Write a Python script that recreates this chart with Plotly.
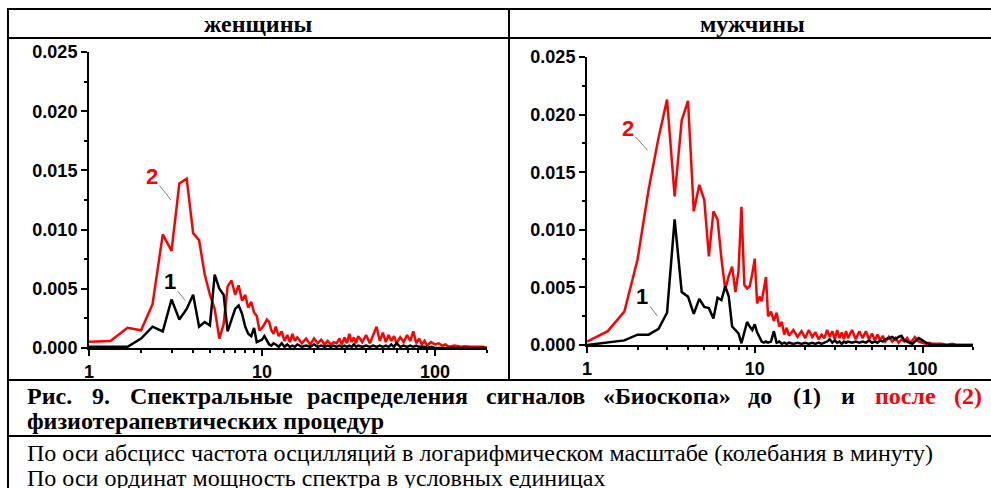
import math
import plotly.graph_objects as go

# частоты, колебания в минуту (шаг 1/3 до 12, дальше реже)
freq_low = [1.0, 1.33, 1.67, 2.0, 2.33, 2.67, 3.0, 3.33, 3.67, 4.0, 4.33,
            4.67, 5.0, 5.33, 5.67, 6.0, 6.33, 6.67, 7.0, 7.33, 7.67, 8.0,
            8.33, 8.67, 9.0, 9.33, 9.67, 10.0, 10.33, 10.67, 11.0, 11.33, 11.67]
freq_tail = [12.0, 12.5, 13.0, 13.5, 14.0, 14.5, 15.0, 15.5, 16.0,
             17, 18, 19, 20, 21, 22, 23, 24, 25, 26,
             27, 28, 29, 30, 31, 32, 33, 34, 35, 36,
             38, 40, 42, 44, 46, 48, 50, 52, 54, 56,
             58, 60, 63, 66, 69, 72, 75, 78, 81, 84,
             87, 90, 95, 100, 105, 110, 115, 120, 130, 140,
             150, 160, 170, 180, 190, 200]

# женщины, до (1)
women_before = [0.0001, 0.0001, 0.0001, 0.0008, 0.0018, 0.0014, 0.0041, 0.0024, 0.0033,
                0.0045, 0.0018, 0.0022, 0.0019, 0.0062, 0.0050, 0.0045, 0.0014, 0.0024,
                0.0033, 0.0036, 0.0029, 0.0018, 0.0012, 0.0010, 0.0017, 0.0005, 0.0006,
                0.0007, 0.0010, 0.0006, 0.0003, 0.0002, 0.0004,
                0.0003, 0.0001, 0.0004, 0.0001, 0.0003, 0.0001, 0.0002, 0.0001, 0.0003,
                0.0001, 0.0002, 0.0001, 0.0003, 0.0001, 0.0002, 0.0001, 0.0002, 0.0001, 0.0002,
                0.0001, 0.0002, 0.0001, 0.0002, 0.0001, 0.0002, 0.0001, 0.0003, 0.0001, 0.0002,
                0.0001, 0.0002, 0.0001, 0.0002, 0.0001, 0.0002, 0.0001, 0.0002, 0.0001, 0.0003,
                0.0001, 0.0004, 0.0001, 0.0002, 0.0001, 0.0002, 0.0001, 0.0002, 0.0001, 0.0001,
                0.0001, 0.0, 0.0001, 0.0, 0.0, 0.0, 0.0, 0.0, 0.0, 0.0,
                0.0, 0.0, 0.0, 0.0, 0.0, 0.0]
# женщины, после (2)
women_after = [0.00053, 0.0006, 0.0017, 0.0015, 0.0037, 0.0096, 0.0082, 0.0139, 0.0143,
               0.0097, 0.0091, 0.0062, 0.0045, 0.0033, 0.0008, 0.0020, 0.0052, 0.0057,
               0.0045, 0.0053, 0.0040, 0.0045, 0.0034, 0.0039, 0.0030, 0.0027, 0.0015,
               0.0017, 0.0020, 0.0024, 0.0022, 0.0015, 0.0012,
               0.0018, 0.0010, 0.0014, 0.0006, 0.0011, 0.0005, 0.0012, 0.0006, 0.0009,
               0.0004, 0.0008, 0.0003, 0.0008, 0.0004, 0.0007, 0.0003, 0.0006, 0.0003, 0.0005,
               0.0004, 0.0008, 0.0003, 0.0009, 0.0004, 0.0012, 0.0005, 0.0009, 0.0004, 0.0010,
               0.0005, 0.0011, 0.0004, 0.0012, 0.0018, 0.0006, 0.0013, 0.0005, 0.0011, 0.0006,
               0.0010, 0.0004, 0.0009, 0.0005, 0.0011, 0.0006, 0.0014, 0.0004, 0.0008, 0.0003,
               0.0006, 0.0002, 0.0005, 0.0003, 0.0004, 0.0002, 0.0003, 0.0001, 0.0002, 0.0001,
               0.00015, 0.0001, 0.0001, 0.00005, 0.0001, 0.0]

# мужчины, до (1)
men_before = [0.0, 0.0002, 0.0004, 0.0009, 0.0009, 0.0014, 0.0028, 0.0109, 0.0046,
              0.0042, 0.0027, 0.0040, 0.0033, 0.0032, 0.0023, 0.0041, 0.0039, 0.0051,
              0.0042, 0.0016, 0.0013, 0.0010, 0.00015, 0.0011, 0.0020, 0.0016, 0.0013,
              0.0018, 0.0011, 0.0007, 0.0003, 0.0002, 0.0003,
              0.0002, 0.0003, 0.0012, 0.0002, 0.0003, 0.0001, 0.0002, 0.0001, 0.0002,
              0.0001, 0.0002, 0.0001, 0.0002, 0.0001, 0.0002, 0.0001, 0.0002, 0.0001, 0.0002,
              0.0003, 0.0005, 0.0002, 0.0004, 0.0002, 0.0003, 0.0001, 0.0003, 0.0002, 0.0003,
              0.0002, 0.0003, 0.0002, 0.0003, 0.0002, 0.0004, 0.0002, 0.0003, 0.0002, 0.0004,
              0.0003, 0.0005, 0.0006, 0.0007, 0.0005, 0.0007, 0.0008, 0.0004, 0.0003, 0.0002,
              0.0001, 0.0003, 0.0006, 0.0004, 0.0002, 0.0001, 0.0, 0.0, 0.0, 0.0,
              0.0, 0.0, 0.0, 0.0, 0.0, 0.0]
# мужчины, после (2)
men_after = [0.0003, 0.0012, 0.0029, 0.0074, 0.0135, 0.0180, 0.0213, 0.0129, 0.0195,
             0.0212, 0.0116, 0.0139, 0.0126, 0.0077, 0.0116, 0.0109, 0.0075, 0.0048,
             0.0060, 0.0068, 0.0046, 0.0064, 0.0120, 0.0052, 0.0049, 0.0051, 0.0062,
             0.0075, 0.0036, 0.0042, 0.0038, 0.0048, 0.0059,
             0.0025, 0.0029, 0.0021, 0.0028, 0.0016, 0.0020, 0.0009, 0.0015, 0.0008,
             0.0013, 0.0007, 0.0012, 0.0006, 0.0013, 0.0007, 0.0011, 0.0005, 0.0009, 0.0006,
             0.0013, 0.0007, 0.0012, 0.0005, 0.0013, 0.0006, 0.0011, 0.0005, 0.0012, 0.0006,
             0.0013, 0.0005, 0.0012, 0.0006, 0.0012, 0.0005, 0.0010, 0.0004, 0.0009, 0.0004,
             0.0008, 0.0003, 0.0007, 0.0003, 0.0006, 0.0002, 0.0005, 0.0003, 0.0006, 0.0002,
             0.0004, 0.0007, 0.0003, 0.0002, 0.0001, 0.0002, 0.0001, 0.0001, 0.0001, 0.0,
             0.0001, 0.0, 0.0, 0.0, 0.0, 0.0]

y_ticks = [0.0, 0.005, 0.010, 0.015, 0.020, 0.025]
x_ticks = [1, 10, 100]
x_ticktext = ["1", "10", "100"]

panel_titles = ["женщины", "мужчины"]
caption_words = ["Рис.", "9.", "Спектральные", "распределения", "сигналов", "«Биоскопа»",
                 "до", "(1)", "и", "после", "(2)"]
caption_line2 = "физиотерапевтических процедур"
note_lines = ["По оси абсцисс частота осцилляций в логарифмическом масштабе (колебания в минуту)",
              "По оси ординат мощность спектра в условных единицах"]

W, H = 991, 488
RED = "#ff0000"
freq = freq_low + freq_tail


def px(x):
    return x / W


def py(y):
    return 1 - y / H


fig = go.Figure()

for xa, ya, before, after in [("x", "y", women_before, women_after),
                              ("x2", "y2", men_before, men_after)]:
    fig.add_trace(go.Scatter(x=freq, y=after, mode="lines", line=dict(color=RED, width=2.5),
                             xaxis=xa, yaxis=ya, showlegend=False, hoverinfo="skip"))
    fig.add_trace(go.Scatter(x=freq, y=before, mode="lines", line=dict(color="black", width=2.5),
                             xaxis=xa, yaxis=ya, showlegend=False, hoverinfo="skip"))

tickfont = dict(family="Liberation Sans", size=18, color="black", weight="bold")


def xaxis_cfg(x0, x1, anchor):
    return dict(type="log", range=[0, 2.301], domain=[px(x0), px(x1)], anchor=anchor,
                showline=True, linecolor="black", linewidth=2, mirror=False,
                ticks="outside", ticklen=6, tickwidth=2, tickcolor="black",
                tickvals=x_ticks, ticktext=x_ticktext, tickfont=tickfont,
                showgrid=False, zeroline=False, automargin=False,
                minor=dict(ticks="outside", ticklen=3, tickwidth=1.5, tickcolor="black",
                           dtick="D1", showgrid=False))


def yaxis_cfg(y0, y1, anchor):
    return dict(range=[0, 0.025], domain=[py(y0), py(y1)], anchor=anchor,
                showline=True, linecolor="black", linewidth=2,
                ticks="outside", ticklen=6, tickwidth=2, tickcolor="black",
                tickvals=y_ticks, tickformat=".3f", tickfont=tickfont,
                showgrid=False, zeroline=False, automargin=False,
                minor=dict(ticks="outside", ticklen=3, tickwidth=1.5, tickcolor="black",
                           dtick=0.0025, showgrid=False))


# рамка таблицы
shapes = []
for y in [9, 38, 380, 436]:
    shapes.append(dict(type="line", xref="paper", yref="paper", x0=px(7), x1=1.0,
                       y0=py(y), y1=py(y), line=dict(color="black", width=2)))
shapes.append(dict(type="line", xref="paper", yref="paper", x0=px(8), x1=px(8),
                   y0=py(8), y1=0, line=dict(color="black", width=2)))
shapes.append(dict(type="line", xref="paper", yref="paper", x0=px(509), x1=px(509),
                   y0=py(9), y1=py(380), line=dict(color="black", width=2)))

annotations = []
serif = "Liberation Serif"
for title, cx in zip(panel_titles, [258, 752]):
    annotations.append(dict(text="<b>%s</b>" % title, xref="paper", yref="paper",
                            x=px(cx), y=py(24), xanchor="center", yanchor="middle",
                            showarrow=False, font=dict(family=serif, size=24, color="black")))

# первая строка подписи выровнена по ширине
word_left = [25, 90, 128, 305, 484, 601, 746, 791, 839, 873, 952]
for word, xl in zip(caption_words, word_left):
    color = RED if word in ("после", "(2)") else "black"
    annotations.append(dict(text="<b>%s</b>" % word, xref="paper", yref="paper",
                            x=px(xl), y=py(396), xanchor="left", yanchor="middle",
                            showarrow=False, font=dict(family=serif, size=24, color=color)))
annotations.append(dict(text="<b>%s</b>" % caption_line2, xref="paper", yref="paper",
                        x=px(25), y=py(421), xanchor="left", yanchor="middle",
                        showarrow=False, font=dict(family=serif, size=24, color="black")))
for line, yy in zip(note_lines, [453, 478]):
    annotations.append(dict(text=line, xref="paper", yref="paper",
                            x=px(25), y=py(yy), xanchor="left", yanchor="middle",
                            showarrow=False, font=dict(family=serif, size=24, color="black")))

# номера кривых с выносками
labels = [("2", RED, "x", "y", 2.98, 0.0125, -19, -24),
          ("1", "black", "x", "y", 3.6, 0.0040, -15, -19),
          ("2", RED, "x2", "y2", 2.30, 0.0169, -20, -22),
          ("1", "black", "x2", "y2", 2.63, 0.0025, -15, -20)]
for text, color, xr, yr, xv, yv, ax, ay in labels:
    annotations.append(dict(text="<b>%s</b>" % text, xref=xr, yref=yr, x=math.log10(xv), y=yv,
                            ax=ax, ay=ay, showarrow=True, arrowhead=0, arrowwidth=1,
                            arrowcolor="#808080", standoff=0,
                            font=dict(family="Liberation Sans", size=22, color=color)))

fig.update_layout(
    width=W, height=H,
    margin=dict(l=0, r=0, t=0, b=0, pad=0, autoexpand=False),
    showlegend=False,
    paper_bgcolor="white", plot_bgcolor="white",
    xaxis=xaxis_cfg(89, 487, "y"),
    yaxis=yaxis_cfg(348, 52, "x"),
    xaxis2=xaxis_cfg(587, 973, "y2"),
    yaxis2=yaxis_cfg(345, 57, "x2"),
    shapes=shapes,
    annotations=annotations,
)

fig.write_html("out.html", config={"displayModeBar": False},
               post_script="document.body.style.margin='0px'; document.body.style.overflow='hidden';")
